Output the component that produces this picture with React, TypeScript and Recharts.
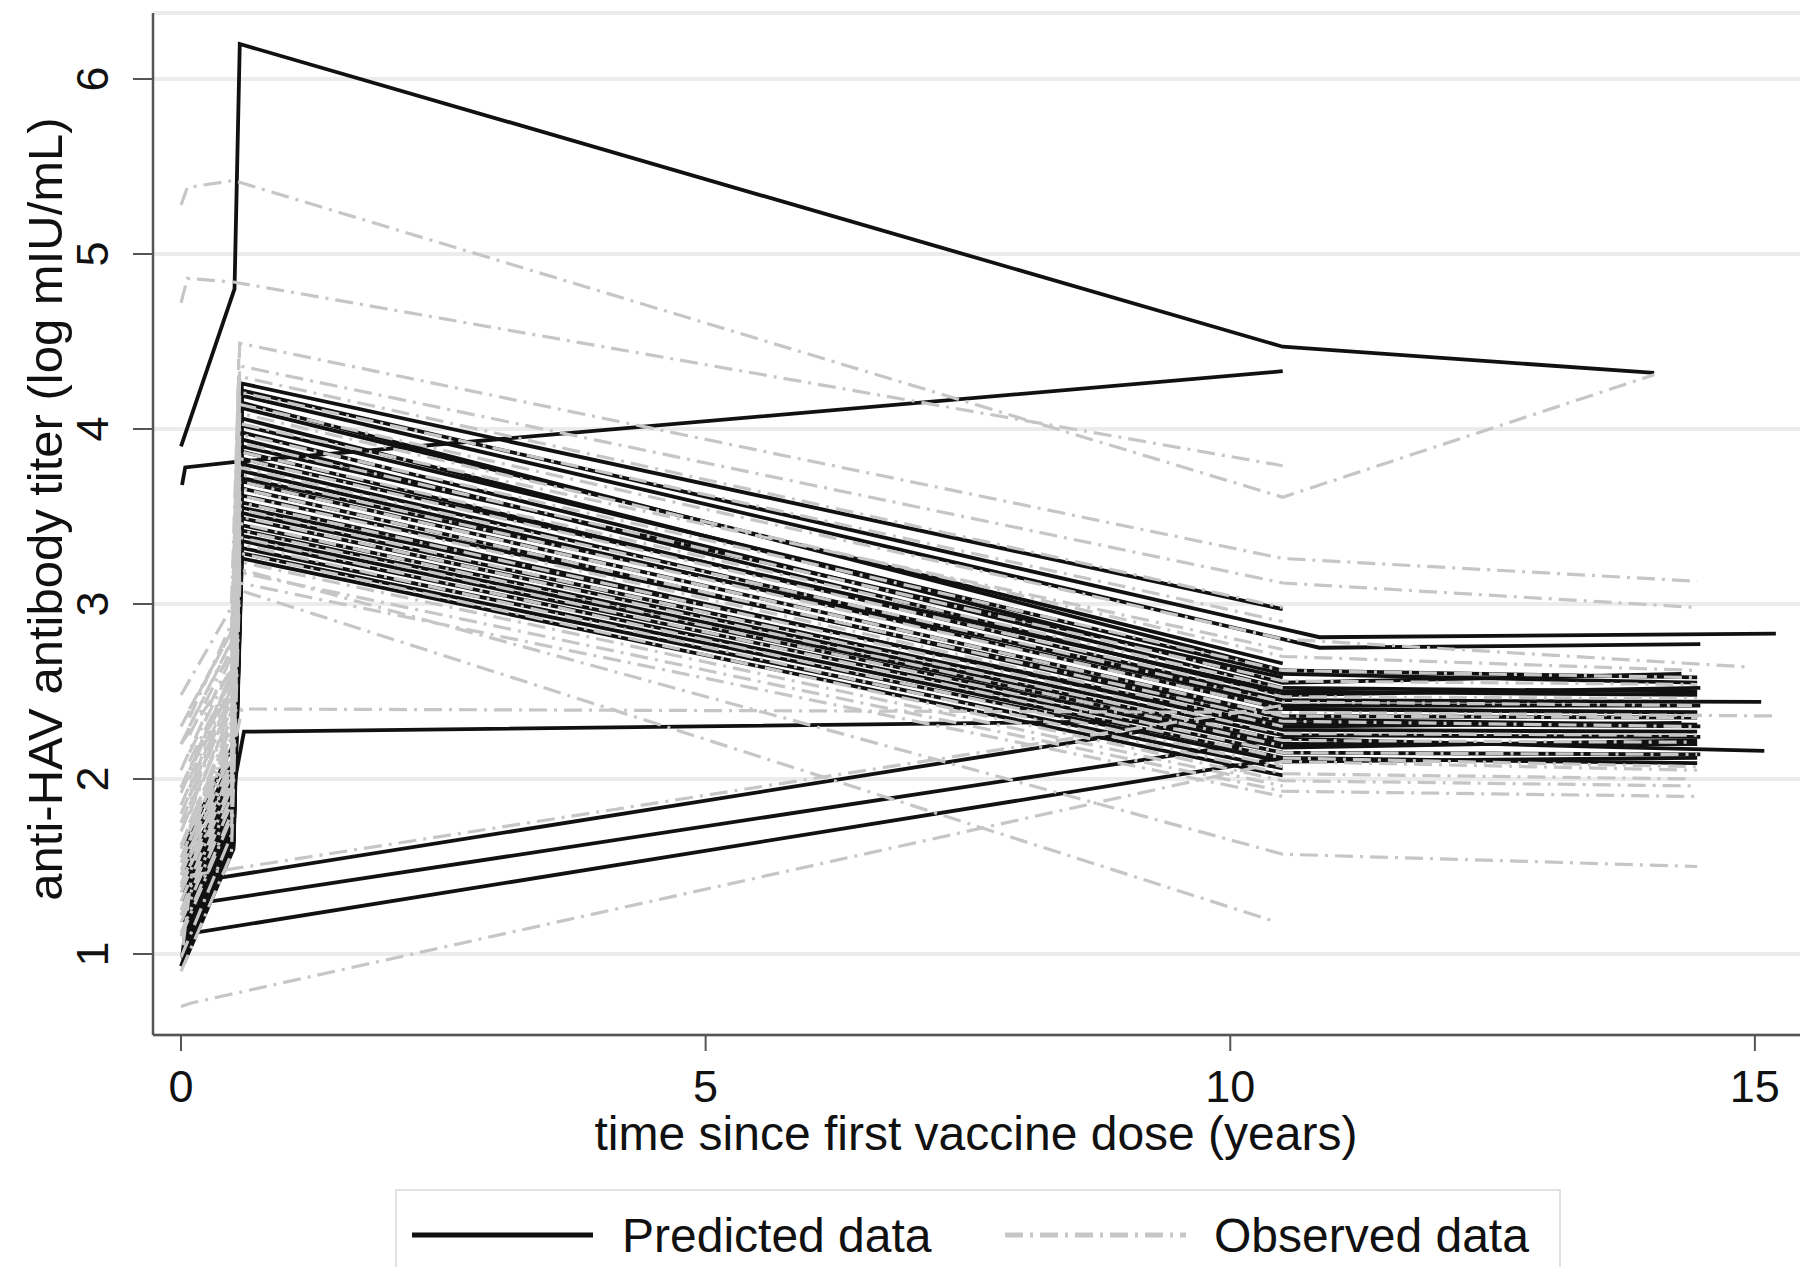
import { LineChart, Line, XAxis, YAxis, CartesianGrid, Label } from 'recharts';

const FONT = '"Liberation Sans", Arial, Helvetica, sans-serif';

const xTicks = [0, 5, 10, 15];
const yTicks = [1, 2, 3, 4, 5, 6];

// predicted titers, main cohort (one entry per child)
// visits: ~1 month, 6 months, 7 months (after booster), ~10.5 years, last follow-up
const predMonth1 = [1.62, 1.48, 1.55, 1.4, 1.58, 1.35, 1.44, 1.3, 1.38, 1.5, 1.26, 1.33, 1.42, 1.2, 1.28, 1.36, 1.15, 1.24, 1.1, 1.31, 1.18, 1.05, 1.22, 1.0, 1.12, 0.97, 1.08, 1.02, 0.95];
const predMonth6 = [2.2, 2.02, 2.12, 1.92, 2.06, 1.88, 1.98, 1.82, 1.9, 2.0, 1.78, 1.86, 1.94, 1.74, 1.8, 1.88, 1.7, 1.78, 1.68, 1.84, 1.72, 1.66, 1.76, 1.64, 1.7, 1.62, 1.68, 1.65, 1.6];
const predMonth7 = [4.26, 4.22, 4.19, 4.15, 4.12, 4.06, 4.02, 3.98, 3.94, 3.9, 3.87, 3.83, 3.8, 3.76, 3.72, 3.7, 3.66, 3.62, 3.58, 3.55, 3.52, 3.49, 3.45, 3.42, 3.39, 3.36, 3.32, 3.29, 3.26];
const predYear10 = [2.97, 2.81, 2.75, 2.62, 2.66, 2.55, 2.6, 2.52, 2.48, 2.58, 2.45, 2.5, 2.42, 2.4, 2.45, 2.36, 2.32, 2.35, 2.28, 2.3, 2.25, 2.22, 2.2, 2.18, 2.15, 2.12, 2.1, 2.06, 2.02];
const predYear10Time = [10.5, 10.85, 10.85, 10.5, 10.5, 10.5, 10.5, 10.5, 10.5, 10.5, 10.5, 10.5, 10.5, 10.5, 10.5, 10.5, 10.5, 10.5, 10.5, 10.5, 10.5, 10.5, 10.5, 10.5, 10.5, 10.5, 10.5, 10.5, 10.5];
const predLast = [null, 2.83, 2.77, 2.58, null, 2.6, 2.55, 2.5, 2.52, null, 2.44, 2.48, 2.42, 2.38, null, 2.35, 2.3, null, 2.27, 2.32, 2.24, null, 2.2, 2.22, 2.14, null, 2.12, null, null];
const predLastTime = [null, 15.2, 14.48, 14.45, null, 14.3, 14.45, 14.45, 14.48, null, 15.06, 14.45, 14.48, 14.45, null, 14.45, 14.48, null, 14.45, 14.3, 14.48, null, 14.45, 14.45, 14.48, null, 14.45, null, null];

// children whose predicted curve stands apart, [years, titer]
const predOutliers: number[][][] = [
    [[0, 3.9], [0.51, 4.8], [0.56, 6.2], [10.5, 4.47], [14.04, 4.32]],
    [[0.01, 3.68], [0.04, 3.78], [0.5, 3.81], [10.5, 4.33]],
    [[0.03, 1.3], [0.5, 1.95], [0.6, 2.27], [10.5, 2.34], [14.45, 2.31]],
    [[0.01, 0.98], [0.1, 1.41], [10.5, 2.4], [14.45, 2.38]],
    [[0.02, 0.97], [0.17, 1.29], [10.5, 2.23], [15.09, 2.16]],
    [[0, 0.93], [0.12, 1.12], [10.5, 2.12], [14.45, 2.09]],
];

// observed titers, main cohort
const obsMonth0 = [2.48, 2.3, 2.05, 1.95, 2.2, 1.85, 1.7, 1.92, 1.62, 1.75, 1.55, 1.8, 1.48, 1.6, 1.4, 1.52, 1.35, 1.45, 1.25, 1.38, 1.18, 1.3, 1.1, 1.22, 0.98, 1.12, 0.9];
const obsMonth6 = [2.98, 2.84, 2.7, 2.6, 2.78, 2.52, 2.4, 2.58, 2.33, 2.45, 2.25, 2.48, 2.18, 2.3, 2.1, 2.22, 2.02, 2.15, 1.95, 2.06, 1.86, 1.98, 1.78, 1.9, 1.68, 1.8, 1.57];
const obsMonth7 = [4.49, 4.36, 4.3, 4.21, 4.14, 4.09, 4.03, 3.97, 3.92, 3.87, 3.83, 3.78, 3.74, 3.7, 3.66, 3.62, 3.58, 3.54, 3.5, 3.46, 3.42, 3.38, 3.34, 3.29, 3.24, 3.18, 3.12];
const obsYear10 = [3.26, 3.12, 2.98, 2.9, 2.8, 2.7, 2.74, 2.62, 2.56, 2.52, 2.47, 2.44, 2.4, 2.36, 2.33, 2.3, 2.26, 2.22, 2.19, 2.15, 2.12, 2.07, 2.03, 1.99, 1.96, 1.93, 1.9];
const obsLast = [3.13, 2.98, null, null, 2.64, 2.62, null, 2.58, 2.54, null, 2.46, 2.42, null, 2.35, 2.3, null, 2.25, 2.21, null, 2.14, 2.07, null, 2.0, 1.96, null, 1.9, null];
const obsLastTime = [14.45, 14.45, null, null, 14.93, 14.45, null, 14.4, 14.45, null, 14.45, 14.4, null, 14.45, 14.4, null, 14.45, 14.4, null, 14.45, 14.45, null, 14.4, 14.45, null, 14.45, null];

// observed titers of children seen only during the first year
const obsEarlyM1 = [2.35, 2.1, 1.9, 2.25, 1.7, 2.0, 1.6, 1.85, 2.4, 1.55, 1.95, 1.75, 2.15, 1.65, 1.8, 2.05, 1.5, 1.9, 1.72, 2.3];
const obsEarlyM6 = [2.9, 2.6, 2.45, 2.75, 2.2, 2.55, 2.1, 2.35, 2.85, 2.05, 2.5, 2.3, 2.65, 2.15, 2.4, 2.6, 1.95, 2.45, 2.25, 2.8];
const obsEarlyM7 = [4.3, 4.0, 3.85, 4.2, 3.5, 3.95, 3.4, 3.7, 4.4, 3.3, 3.9, 3.6, 4.1, 3.45, 3.75, 4.05, 3.2, 3.8, 3.55, 4.25];

const obsOutliers: number[][][] = [
    [[0, 5.28], [0.06, 5.38], [0.5, 5.42], [10.5, 3.61], [14.04, 4.31]],
    [[0, 4.72], [0.06, 4.86], [0.5, 4.84], [10.5, 3.79]],
    [[0, 2.2], [0.48, 2.62], [0.55, 3.08], [10.4, 1.19]],
    [[0, 1.95], [0.48, 2.55], [0.55, 3.2], [10.5, 1.57], [14.45, 1.5]],
    [[0, 1.75], [0.48, 2.1], [0.58, 2.4], [10.5, 2.38], [15.2, 2.36]],
    [[0, 0.7], [0.1, 0.72], [10.5, 2.1], [14.45, 2.05]],
    [[0.02, 1.05], [0.1, 1.45], [10.5, 2.42]],
];

type Pt = { t: number; v: number };

const predSeries: Pt[][] = [
    ...predMonth7.map((_, i) => {
        const pts: Pt[] = [
            { t: 0.03, v: predMonth1[i] },
            { t: 0.5, v: predMonth6[i] },
            { t: 0.58, v: predMonth7[i] },
            { t: predYear10Time[i], v: predYear10[i] },
        ];
        if (predLast[i] != null) pts.push({ t: predLastTime[i] as number, v: predLast[i] as number });
        return pts;
    }),
    ...predOutliers.map((s) => s.map(([t, v]) => ({ t, v }))),
];

const obsSeries: Pt[][] = [
    ...obsMonth7.map((_, i) => {
        const pts: Pt[] = [
            { t: 0, v: obsMonth0[i] },
            { t: 0.48, v: obsMonth6[i] },
            { t: 0.56, v: obsMonth7[i] },
            { t: 10.5, v: obsYear10[i] },
        ];
        if (obsLast[i] != null) pts.push({ t: obsLastTime[i] as number, v: obsLast[i] as number });
        return pts;
    }),
    ...obsEarlyM7.map((_, i) => [
        { t: 0.08, v: obsEarlyM1[i] },
        { t: 0.49, v: obsEarlyM6[i] },
        { t: 0.55, v: obsEarlyM7[i] },
    ]),
    ...obsOutliers.map((s) => s.map(([t, v]) => ({ t, v }))),
];

const PRED_COLOR = '#111111';
const OBS_COLOR = '#c6c6c6';
const OBS_DASH = '18 7 3 7';

const XTick = ({ x, y, payload }: any) => (
    <text x={x} y={y + 49} textAnchor="middle" fontSize={45} fontFamily={FONT} fill="#111">
        {payload.value}
    </text>
);

const YTick = ({ x, y, payload }: any) => (
    <text
        x={x - 23}
        y={y}
        transform={`rotate(-90, ${x - 23}, ${y})`}
        textAnchor="middle"
        fontSize={45}
        fontFamily={FONT}
        fill="#111"
    >
        {payload.value}
    </text>
);

const App = () => {
    return (
        <div style={{ position: 'absolute', left: 0, top: 0, width: 1805, height: 1267, background: '#fff' }}>
            <LineChart width={1805} height={1267} margin={{ top: 13, right: 5, left: 0, bottom: 0 }}>
                <CartesianGrid vertical={false} stroke="#ececec" strokeWidth={4} />
                <XAxis
                    type="number"
                    dataKey="t"
                    domain={[-0.267, 15.43]}
                    allowDataOverflow
                    ticks={xTicks}
                    height={232}
                    tickSize={16}
                    axisLine={{ stroke: '#555', strokeWidth: 2.5 }}
                    tickLine={{ stroke: '#555', strokeWidth: 2 }}
                    tick={<XTick />}
                >
                    <Label
                        content={() => (
                            <text x={976} y={1150} textAnchor="middle" fontSize={48} fontFamily={FONT} fill="#111">
                                time since first vaccine dose (years)
                            </text>
                        )}
                    />
                </XAxis>
                <YAxis
                    type="number"
                    domain={[0.537, 6.377]}
                    allowDataOverflow
                    ticks={yTicks}
                    width={153}
                    tickSize={20}
                    axisLine={{ stroke: '#555', strokeWidth: 2.5 }}
                    tickLine={{ stroke: '#555', strokeWidth: 2 }}
                    tick={<YTick />}
                >
                    <Label
                        content={() => (
                            <text
                                x={62}
                                y={509}
                                transform="rotate(-90, 62, 509)"
                                textAnchor="middle"
                                fontSize={49}
                                fontFamily={FONT}
                                fill="#111"
                            >
                                anti-HAV antibody titer (log mIU/mL)
                            </text>
                        )}
                    />
                </YAxis>
                {predSeries.map((s, i) => (
                    <Line
                        key={`p${i}`}
                        data={s}
                        dataKey="v"
                        type="linear"
                        stroke={PRED_COLOR}
                        strokeWidth={3.8}
                        dot={false}
                        activeDot={false}
                        isAnimationActive={false}
                    />
                ))}
                {obsSeries.map((s, i) => (
                    <Line
                        key={`o${i}`}
                        data={s}
                        dataKey="v"
                        type="linear"
                        stroke={OBS_COLOR}
                        strokeWidth={3.2}
                        strokeDasharray={OBS_DASH}
                        dot={false}
                        activeDot={false}
                        isAnimationActive={false}
                    />
                ))}
            </LineChart>
            <svg
                width={1170}
                height={78}
                style={{ position: 'absolute', left: 395, top: 1189 }}
            >
                <rect x={1} y={1} width={1164} height={100} fill="#fff" stroke="#e2e2e2" strokeWidth={2} />
                <line x1={17} x2={198} y1={46} y2={46} stroke={PRED_COLOR} strokeWidth={5} />
                <text x={227} y={63} fontSize={48} fontFamily={FONT} fill="#111">Predicted data</text>
                <line x1={610} x2={791} y1={46} y2={46} stroke={OBS_COLOR} strokeWidth={5} strokeDasharray={OBS_DASH} />
                <text x={819} y={63} fontSize={48} fontFamily={FONT} fill="#111">Observed data</text>
            </svg>
        </div>
    );
};

export default App;
